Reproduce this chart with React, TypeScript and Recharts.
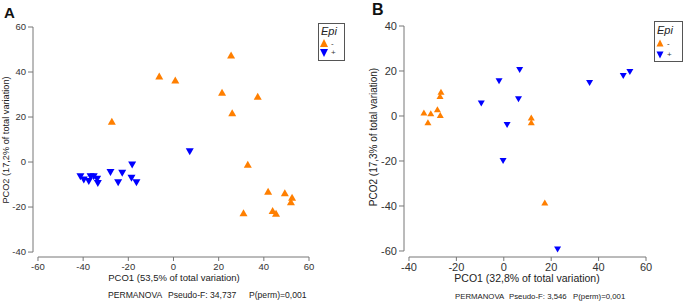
import React from "react";
import { ScatterChart, Scatter, XAxis, YAxis, ReferenceLine } from "recharts";

// ---- Data ----
const aMinus = [
  { x: 25.5, y: 47.6 }, { x: -6.3, y: 38.2 }, { x: 0.8, y: 36.4 }, { x: 21.5, y: 31 },
  { x: 37.3, y: 29.2 }, { x: 26, y: 21.9 }, { x: -27.3, y: 18.1 }, { x: 32.9, y: -1 },
  { x: 41.9, y: -13 }, { x: 49.3, y: -13.6 }, { x: 52.5, y: -15.6 }, { x: 52, y: -17.6 },
  { x: 31, y: -22.5 }, { x: 43.9, y: -21.5 }, { x: 45.4, y: -22.8 },
];
const aPlus = [
  { x: 7.2, y: 4.6 }, { x: -18.3, y: -1.3 }, { x: -27.9, y: -4.7 }, { x: -22.7, y: -5 },
  { x: -41.2, y: -6.5 }, { x: -39.7, y: -8 }, { x: -36.7, y: -6.5 }, { x: -35.3, y: -6.5 },
  { x: -37.5, y: -8.7 }, { x: -33.8, y: -7.7 }, { x: -33.5, y: -9.5 }, { x: -18.6, y: -7.2 },
  { x: -24.5, y: -9.2 }, { x: -16.4, y: -9.2 },
];
const bMinus = [
  { x: -26.5, y: 10.8 }, { x: -26.9, y: 8.9 }, { x: -33.7, y: 1.6 }, { x: -30.8, y: 1.2 },
  { x: -28, y: 3 }, { x: -26.8, y: 0.4 }, { x: -32, y: -2.8 }, { x: 11.6, y: -0.7 },
  { x: 11.6, y: -2.8 }, { x: 17.3, y: -38.5 },
];
const bPlus = [
  { x: 6.7, y: 20.4 }, { x: -2, y: 15.4 }, { x: -9.5, y: 5.6 }, { x: 6.2, y: 7.4 },
  { x: 1.4, y: -4 }, { x: 36.2, y: 14.7 }, { x: 50.4, y: 17.8 }, { x: 53.2, y: 19.6 },
  { x: -0.3, y: -20 }, { x: 22.7, y: -59.3 },
];
const aXTicks = [-60, -40, -20, 0, 20, 40, 60];
const aYTicks = [-40, -20, 0, 20, 40, 60];
const bXTicks = [-40, -20, 0, 20, 40, 60];
const bYTicks = [-60, -40, -20, 0, 20, 40];

const ORANGE = "#FF7F00";
const BLUE = "#0000FF";
const AXIS = "#777";
const TXT = "#333";
const FONT = "'Liberation Sans', Arial, sans-serif";

const upTri = (w: number, h: number, color: string) => (props: any) => {
  const { cx, cy } = props;
  if (cx == null || cy == null) return <g />;
  return (
    <polygon
      points={`${cx},${cy - h / 2} ${cx - w / 2},${cy + h / 2} ${cx + w / 2},${cy + h / 2}`}
      fill={color}
    />
  );
};
const downTri = (w: number, h: number, color: string) => (props: any) => {
  const { cx, cy } = props;
  if (cx == null || cy == null) return <g />;
  return (
    <polygon
      points={`${cx - w / 2},${cy - h / 2} ${cx + w / 2},${cy - h / 2} ${cx},${cy + h / 2}`}
      fill={color}
    />
  );
};

const LegendBox = ({ left, top, width, height, tri, epiY, oy, by }: any) => (
  <div
    style={{
      position: "absolute",
      left,
      top,
      width,
      height,
      border: "1px solid #555",
      boxSizing: "border-box",
      background: "#fff",
    }}
  >
    <svg width={width - 2} height={height - 2} style={{ position: "absolute", left: 0, top: 0 }}>
      <text x={2} y={epiY} fontSize={11} fontStyle="italic" fill="#222" fontFamily={FONT}>
        Epi
      </text>
      <polygon
        points={`${5},${oy - tri / 2} ${5 - tri / 2},${oy + tri / 2} ${5 + tri / 2},${oy + tri / 2}`}
        fill={ORANGE}
      />
      <text x={12} y={oy + 3} fontSize={8} fill={TXT} fontFamily={FONT}>-</text>
      <polygon
        points={`${5 - tri / 2},${by - tri / 2} ${5 + tri / 2},${by - tri / 2} ${5},${by + tri / 2}`}
        fill={BLUE}
      />
      <text x={12} y={by + 2} fontSize={8} fill={TXT} fontFamily={FONT}>+</text>
    </svg>
  </div>
);

// Panel A geometry
const aXDom: [number, number] = [-62.2, 60];
const aYDom: [number, number] = [-42.2, 60];
// Panel B geometry
const bXDom: [number, number] = [-42.1, 60];
const bYDom: [number, number] = [-62.67, 40];

export default function App() {
  return (
    <div style={{ position: "absolute", left: 0, top: 0, width: 685, height: 303, background: "#fff", overflow: "hidden" }}>
      {/* Panel A */}
      <div style={{ position: "absolute", left: 0, top: 0 }}>
        <ScatterChart width={340} height={303} margin={{ top: 27, right: 31, bottom: 16, left: 0 }}>
          <XAxis
            type="number"
            dataKey="x"
            domain={aXDom}
            ticks={aXTicks}
            interval={0}
            allowDataOverflow
            axisLine={false}
            tickLine={{ stroke: AXIS }}
            tickSize={4}
            tickMargin={2}
            height={30}
            tick={{ fill: TXT, fontSize: 9.5, fontFamily: FONT }}
            label={() => (
              <text x={174} y={281} textAnchor="middle" fontSize={9.5} fill="#222" fontFamily={FONT}>
                PCO1 (53,5% of total variation)
              </text>
            )}
          />
          <YAxis
            type="number"
            dataKey="y"
            domain={aYDom}
            ticks={aYTicks}
            interval={0}
            allowDataOverflow
            axisLine={false}
            tickLine={{ stroke: AXIS }}
            tickSize={5}
            tickMargin={2}
            width={33}
            tick={{ fill: TXT, fontSize: 9.5, fontFamily: FONT }}
            label={() => (
              <text
                x={6}
                y={140}
                transform="rotate(-90 6 140)"
                textAnchor="middle"
                dominantBaseline="central"
                fontSize={9.2}
                fill="#222"
                fontFamily={FONT}
              >
                PCO2 (17,2% of total variation)
              </text>
            )}
          />
          <ReferenceLine
            segment={[{ x: -60, y: aYDom[0] }, { x: 60, y: aYDom[0] }]}
            stroke={AXIS}
            ifOverflow="visible"
          />
          <ReferenceLine
            segment={[{ x: aXDom[0], y: -40 }, { x: aXDom[0], y: 60 }]}
            stroke={AXIS}
            ifOverflow="visible"
          />
          <Scatter data={aMinus} shape={upTri(8, 7, ORANGE)} isAnimationActive={false} />
          <Scatter data={aPlus} shape={downTri(8, 7, BLUE)} isAnimationActive={false} />
        </ScatterChart>
      </div>

      {/* Panel B */}
      <div style={{ position: "absolute", left: 340, top: 0 }}>
        <ScatterChart width={345} height={303} margin={{ top: 26, right: 39, bottom: 16, left: 34 }}>
          <XAxis
            type="number"
            dataKey="x"
            domain={bXDom}
            ticks={bXTicks}
            interval={0}
            allowDataOverflow
            axisLine={false}
            tickLine={{ stroke: AXIS }}
            tickSize={4}
            tickMargin={2}
            height={30}
            tick={{ fill: TXT, fontSize: 11, fontFamily: FONT }}
            label={() => (
              <text x={187} y={282} textAnchor="middle" fontSize={10.5} fill="#222" fontFamily={FONT}>
                PCO1 (32,8% of total variation)
              </text>
            )}
          />
          <YAxis
            type="number"
            dataKey="y"
            domain={bYDom}
            ticks={bYTicks}
            interval={0}
            allowDataOverflow
            axisLine={false}
            tickLine={{ stroke: AXIS }}
            tickSize={5}
            tickMargin={2}
            width={30}
            tick={{ fill: TXT, fontSize: 11, fontFamily: FONT }}
            label={() => (
              <text
                x={33}
                y={137}
                transform="rotate(-90 33 137)"
                textAnchor="middle"
                dominantBaseline="central"
                fontSize={10}
                fill="#222"
                fontFamily={FONT}
              >
                PCO2 (17,3% of total variation)
              </text>
            )}
          />
          <ReferenceLine
            segment={[{ x: -40, y: bYDom[0] }, { x: 60, y: bYDom[0] }]}
            stroke={AXIS}
            ifOverflow="visible"
          />
          <ReferenceLine
            segment={[{ x: bXDom[0], y: -60 }, { x: bXDom[0], y: 40 }]}
            stroke={AXIS}
            ifOverflow="visible"
          />
          <Scatter data={bMinus} shape={upTri(7, 6, ORANGE)} isAnimationActive={false} />
          <Scatter data={bPlus} shape={downTri(7, 6, BLUE)} isAnimationActive={false} />
        </ScatterChart>
      </div>

      {/* Overlay texts */}
      <svg width={685} height={303} style={{ position: "absolute", left: 0, top: 0, pointerEvents: "none" }}>
        <text x={4} y={18} fontSize={15} fontWeight="bold" fill="#111" fontFamily={FONT}>A</text>
        <text x={372} y={15} fontSize={16} fontWeight="bold" fill="#111" fontFamily={FONT}>B</text>
        <text fontSize={8.6} fill="#222" fontFamily={FONT} y={298}>
          <tspan x={108}>PERMANOVA</tspan>
          <tspan x={168}>Pseudo-F: 34,737</tspan>
          <tspan x={249}>P(perm)=0,001</tspan>
        </text>
        <text fontSize={7.8} fill="#222" fontFamily={FONT} y={299}>
          <tspan x={455}>PERMANOVA</tspan>
          <tspan x={509}>Pseudo-F: 3,546</tspan>
          <tspan x={573}>P(perm)=0,001</tspan>
        </text>
      </svg>

      <LegendBox left={318} top={23} width={27} height={38} tri={8} epiY={11} oy={19} by={29} />
      <LegendBox left={654} top={21} width={29} height={41} tri={7} epiY={12} oy={21} by={33} />
    </div>
  );
}
